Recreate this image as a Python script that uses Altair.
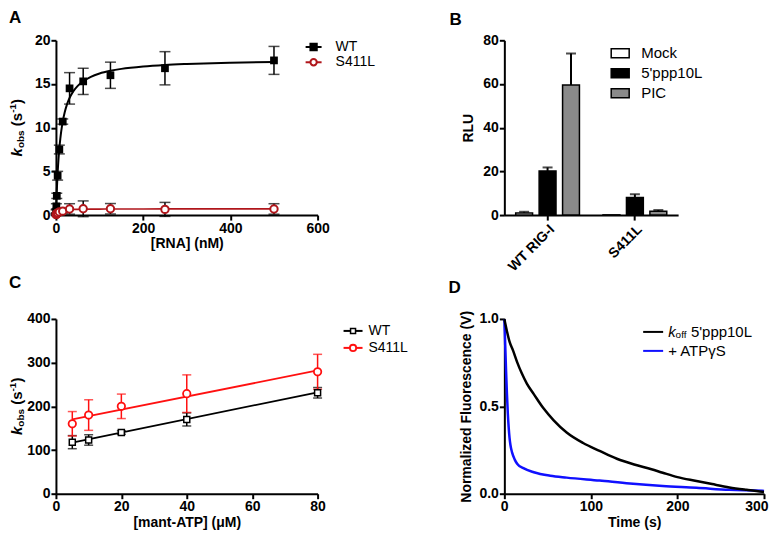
import altair as alt
import pandas as pd

FONT = "Liberation Sans"
DARKRED = "#b0161b"
RED = "#ff1010"
BLUE = "#1010ff"

# ---------------- Panel A data ----------------
a_conc = [0.49, 0.98, 1.95, 3.9, 7.8, 15.6, 31.25, 62.5, 125, 250, 500]
a_wt = [0.4, 1.0, 2.2, 4.5, 7.5, 10.7, 14.5, 15.3, 16.0, 16.8, 17.7]
a_wt_sd = [0.2, 0.3, 0.3, 0.5, 0.5, 0.3, 1.8, 1.5, 1.5, 1.9, 1.6]
a_mut = [0.05, 0.1, 0.15, 0.25, 0.35, 0.45, 0.7, 0.72, 0.72, 0.65, 0.7]
a_mut_sd = [0.05, 0.1, 0.1, 0.1, 0.15, 0.2, 0.6, 0.9, 0.6, 0.8, 0.6]
a_fit_x = [0, 1, 2, 4, 6, 8, 10, 12, 16, 20, 25, 30, 40, 50, 60, 80, 100,
           125, 150, 200, 250, 300, 400, 500]
a_fit_wt = [0, 1.56, 2.86, 4.94, 6.51, 7.74, 8.73, 9.55, 10.81, 11.74, 12.61,
            13.26, 14.18, 14.79, 15.23, 15.82, 16.20, 16.51, 16.73, 17.01,
            17.18, 17.29, 17.44, 17.53]
a_fit_mut = [0, 0.12, 0.21, 0.32, 0.39, 0.44, 0.48, 0.51, 0.55, 0.58, 0.60,
             0.62, 0.64, 0.655, 0.665, 0.678, 0.686, 0.692, 0.697, 0.702,
             0.706, 0.708, 0.711, 0.713]

# ---------------- Panel B data ----------------
b_groups = ["WT RIG-I", "S411L"]
b_conds = ["Mock", "5'ppp10L", "PIC"]
b_wt = [1.0, 20.2, 59.5]
b_wt_sd = [0.5, 1.6, 14.5]
b_mut = [0.1, 8.0, 1.8]
b_mut_sd = [0.0, 1.5, 0.5]
b_fill = ["white", "black", "#8a8a8a"]

# ---------------- Panel C data ----------------
c_atp = [5, 10, 20, 40, 80]
c_wt = [118, 123, 140, 170, 231]
c_wt_sd = [15, 12, 4, 15, 12]
c_mut = [160, 180, 200, 229, 279]
c_mut_sd = [28, 35, 28, 43, 40]
c_fit_x = [5, 80]
c_fit_wt = [117, 232]
c_fit_mut = [170, 282]

# ---------------- Panel D data ----------------
d_t_koff = [0, 1, 3, 6, 10, 15, 20, 26, 34, 45, 57, 72, 91, 110, 130, 150,
            170, 183, 200, 222, 240, 260, 280, 298, 300]
d_koff = [1.0, 0.975, 0.93, 0.87, 0.82, 0.75, 0.69, 0.63, 0.57, 0.49, 0.42,
          0.35, 0.29, 0.245, 0.20, 0.167, 0.14, 0.12, 0.095, 0.073, 0.055,
          0.036, 0.022, 0.011, 0.01]
d_t_atp = [0, 0.5, 1, 2, 3, 4, 5, 6, 7, 9, 12, 15, 22, 34, 53, 72, 110, 145,
           183, 222, 260, 298, 300]
d_atp = [1.0, 0.93, 0.85, 0.70, 0.57, 0.46, 0.38, 0.32, 0.28, 0.235, 0.195,
         0.17, 0.146, 0.123, 0.103, 0.092, 0.075, 0.058, 0.044, 0.034, 0.022,
         0.017, 0.016]

ONE = pd.DataFrame({"d": [0]})

BOLD_W = {"k": .556, "o": .611, "b": .611, "s": .556, "(": .333, ")": .333,
          "-": .333, "1": .556, " ": .278}
REG_W = {"k": .5, "o": .556, "f": .278, " ": .278}


def tw(s, size, bold=True):
    table = BOLD_W if bold else REG_W
    return sum(table.get(c, 0.556) for c in s) * size


def label(text, x, y, size, weight="bold", style="normal", angle=0,
          align="left", baseline="middle", color="black"):
    return alt.Chart(ONE).mark_text(
        text=text, font=FONT, fontSize=size, fontWeight=weight,
        fontStyle=style, angle=angle, align=align, baseline=baseline,
        color=color).encode(x=alt.value(x), y=alt.value(y))


def kobs_title(xc, yc, big=15, small=10):
    parts = [("k", big, "italic", 0), ("obs", small, "normal", 4),
             (None, big, None, 0), ("(s", big, "normal", 0),
             ("-1", small, "normal", -4), (")", big, "normal", 0)]
    widths = [tw("k", big), tw("obs", small), tw(" ", big), tw("(s", big),
              tw("-1", small), tw(")", big)]
    y = yc + sum(widths) / 2
    out = []
    for (t, size, style, dx), w in zip(parts, widths):
        if t:
            out.append(label(t, xc + dx, y, size, style=style, angle=270))
        y -= w
    return out


def leg_line(x1, x2, y, color, width=2):
    return alt.Chart(ONE).mark_rule(color=color, strokeWidth=width).encode(
        x=alt.value(x1), x2=alt.value(x2), y=alt.value(y))


def leg_point(x, y, shape, color, fill, size, sw=2):
    return alt.Chart(ONE).mark_point(
        shape=shape, filled=True, fill=fill, stroke=color, strokeWidth=sw,
        size=size, opacity=1).encode(x=alt.value(x), y=alt.value(y))


def leg_box(x1, x2, y1, y2, fill):
    return alt.Chart(ONE).mark_rect(fill=fill, stroke="black",
                                    strokeWidth=1.5).encode(
        x=alt.value(x1), x2=alt.value(x2), y=alt.value(y1), y2=alt.value(y2))


# ================= Panel A =================
dfA = pd.DataFrame({"conc": a_conc, "wt": a_wt, "wt_sd": a_wt_sd,
                    "mut": a_mut, "mut_sd": a_mut_sd})
dfA["wt_lo"] = dfA["wt"] - dfA["wt_sd"]
dfA["wt_hi"] = dfA["wt"] + dfA["wt_sd"]
dfA["mut_lo"] = dfA["mut"] - dfA["mut_sd"]
dfA["mut_hi"] = dfA["mut"] + dfA["mut_sd"]
dfAfit = pd.DataFrame({"conc": a_fit_x, "wt": a_fit_wt, "mut": a_fit_mut})


def xA():
    return alt.X("conc:Q", scale=alt.Scale(domain=[0, 600], nice=False),
                 axis=alt.Axis(values=[0, 200, 400, 600], title="[RNA] (nM)",
                               titlePadding=1))


def yA(f):
    return alt.Y(f"{f}:Q", scale=alt.Scale(domain=[0, 20], nice=False),
                 axis=alt.Axis(values=[0, 5, 10, 15, 20], title=None))


baseA = alt.Chart(dfA)
layersA = []
for s in ["wt", "mut"]:
    layersA.append(baseA.mark_rule(color="black", strokeWidth=1.5).encode(
        x=xA(), y=yA(f"{s}_lo"), y2=f"{s}_hi"))
    for e in ["lo", "hi"]:
        layersA.append(baseA.mark_tick(orient="horizontal", size=11,
                                       thickness=1.5, color="black").encode(
            x=xA(), y=yA(f"{s}_{e}")))
layersA.append(alt.Chart(dfAfit).mark_line(color=DARKRED, strokeWidth=1.6,
                                           interpolate="monotone").encode(
    x=xA(), y=yA("mut")))
layersA.append(alt.Chart(dfAfit).mark_line(color="black", strokeWidth=2,
                                           interpolate="monotone").encode(
    x=xA(), y=yA("wt")))
layersA.append(baseA.mark_point(shape="square", filled=True, color="black",
                                size=60, opacity=1).encode(x=xA(), y=yA("wt")))
layersA.append(baseA.mark_point(shape="circle", filled=True, fill="white",
                                stroke=DARKRED, strokeWidth=2, size=55,
                                opacity=1).encode(x=xA(), y=yA("mut")))
layersA += kobs_title(-38.5, 87.5)
layersA += [label("A", -47, -30, 17, baseline="top"),
            leg_line(250, 266, 6.7, "black"),
            leg_point(258, 6.7, "square", "black", "black", 40),
            label("WT", 280, 6.7, 14, weight="normal"),
            leg_line(250, 266, 22, DARKRED),
            leg_point(258, 22, "circle", DARKRED, "white", 40),
            label("S411L", 280, 22, 14, weight="normal")]
panelA = alt.layer(*layersA).properties(width=262, height=175)

# ================= Panel B =================
dfB = pd.DataFrame({
    "group": [g for g in b_groups for _ in b_conds],
    "cond": b_conds * 2,
    "rlu": b_wt + b_mut,
    "sd": b_wt_sd + b_mut_sd,
})
dfB["hi"] = dfB["rlu"] + dfB["sd"]

xB = alt.X("group:N", sort=b_groups,
           scale=alt.Scale(domain=b_groups, paddingInner=0.27,
                           paddingOuter=0.13),
           axis=alt.Axis(title=None, labelAngle=-45, labelAlign="right",
                         labelBaseline="top", labelPadding=2))
xoB = alt.XOffset("cond:N", sort=b_conds,
                  scale=alt.Scale(domain=b_conds, paddingInner=0.28,
                                  paddingOuter=0))


def yB(f):
    return alt.Y(f"{f}:Q", scale=alt.Scale(domain=[0, 80], nice=False),
                 axis=alt.Axis(values=[0, 20, 40, 60, 80], title="RLU",
                               titlePadding=7))


barsB = alt.Chart(dfB).mark_bar(stroke="black", strokeWidth=1.5).encode(
    x=xB, xOffset=xoB, y=yB("rlu"),
    fill=alt.Fill("cond:N", sort=b_conds,
                  scale=alt.Scale(domain=b_conds, range=b_fill),
                  legend=None))
errB = alt.Chart(dfB[dfB["sd"] > 0])
layersB = [
    errB.mark_rule(color="black", strokeWidth=2).encode(
        x=xB, xOffset=xoB, y=yB("rlu"), y2="hi"),
    errB.mark_tick(orient="horizontal", size=10, thickness=2,
                   color="black").encode(x=xB, xOffset=xoB, y=yB("hi")),
    barsB,
    label("B", -55, -28, 17, baseline="top"),
]
for i, (cond, fill) in enumerate(zip(b_conds, b_fill)):
    yc = 13 + 20 * i
    layersB.append(leg_box(107, 125, yc - 4.5, yc + 4.5, fill))
    layersB.append(label(cond, 137, yc, 15, weight="normal"))
panelB = alt.layer(*layersB).properties(width=174, height=175)

# ================= Panel C =================
dfC = pd.DataFrame({"atp": c_atp, "wt": c_wt, "wt_sd": c_wt_sd,
                    "mut": c_mut, "mut_sd": c_mut_sd})
for s in ["wt", "mut"]:
    dfC[f"{s}_lo"] = dfC[s] - dfC[f"{s}_sd"]
    dfC[f"{s}_hi"] = dfC[s] + dfC[f"{s}_sd"]
dfCfit = pd.DataFrame({"atp": c_fit_x, "wt": c_fit_wt, "mut": c_fit_mut})


def xC():
    return alt.X("atp:Q", scale=alt.Scale(domain=[0, 80], nice=False),
                 axis=alt.Axis(values=[0, 20, 40, 60, 80],
                               title="[mant-ATP] (\u03bcM)", titlePadding=2))


def yC(f):
    return alt.Y(f"{f}:Q", scale=alt.Scale(domain=[0, 400], nice=False),
                 axis=alt.Axis(values=[0, 100, 200, 300, 400], title=None))


baseC = alt.Chart(dfC)
layersC = []
for s, col in [("wt", "black"), ("mut", RED)]:
    layersC.append(baseC.mark_rule(color=col, strokeWidth=1.5).encode(
        x=xC(), y=yC(f"{s}_lo"), y2=f"{s}_hi"))
    for e in ["lo", "hi"]:
        layersC.append(baseC.mark_tick(orient="horizontal", size=9,
                                       thickness=1.5, color=col).encode(
            x=xC(), y=yC(f"{s}_{e}")))
layersC.append(alt.Chart(dfCfit).mark_line(color="black", strokeWidth=1.8)
               .encode(x=xC(), y=yC("wt")))
layersC.append(alt.Chart(dfCfit).mark_line(color=RED, strokeWidth=1.8)
               .encode(x=xC(), y=yC("mut")))
layersC.append(baseC.mark_point(shape="square", filled=True, fill="white",
                                stroke="black", strokeWidth=1.5, size=36,
                                opacity=1).encode(x=xC(), y=yC("wt")))
layersC.append(baseC.mark_point(shape="circle", filled=True, fill="white",
                                stroke=RED, strokeWidth=1.8, size=55,
                                opacity=1).encode(x=xC(), y=yC("mut")))
layersC += kobs_title(-38.5, 87.5)
layersC += [label("C", -47, -44, 17, baseline="top"),
            leg_line(288, 307, 12, "black"),
            leg_point(297.5, 12, "square", "black", "white", 25, 1.5),
            label("WT", 313, 12, 14, weight="normal"),
            leg_line(288, 307, 29, RED),
            leg_point(297.5, 29, "circle", RED, "white", 40, 1.8),
            label("S411L", 313, 29, 14, weight="normal")]
panelC = alt.layer(*layersC).properties(width=262, height=175)

# ================= Panel D =================
dfD1 = pd.DataFrame({"t": d_t_koff, "f": d_koff})
dfD2 = pd.DataFrame({"t": d_t_atp, "f": d_atp})


def xD():
    return alt.X("t:Q", scale=alt.Scale(domain=[0, 300], nice=False),
                 axis=alt.Axis(values=[0, 100, 200, 300], title="Time (s)",
                               titlePadding=2, labelFlush=True,
                               labelFlushOffset=4))


def yD():
    return alt.Y("f:Q", scale=alt.Scale(domain=[0, 1], nice=False),
                 axis=alt.Axis(values=[0, 0.5, 1.0], format=".1f",
                               title="Normalized Fluorescence (V)",
                               titlePadding=5))


panelD = alt.layer(
    alt.Chart(dfD2).mark_line(color=BLUE, strokeWidth=2.5,
                              interpolate="monotone").encode(x=xD(), y=yD()),
    alt.Chart(dfD1).mark_line(color="black", strokeWidth=2.5,
                              interpolate="monotone").encode(x=xD(), y=yD()),
    label("D", -56, -39, 17, baseline="top"),
    leg_line(139, 159, 13, "black"),
    label("k", 164, 13, 15, weight="normal", style="italic"),
    label("off", 164 + tw("k", 15, False), 16.5, 10, weight="normal"),
    label("5'ppp10L", 164 + tw("k", 15, False) + tw("off", 10, False)
          + tw(" ", 15, False), 13, 15, weight="normal"),
    leg_line(139, 159, 32, BLUE),
    label("+ ATP\u03b3S", 164, 32, 15, weight="normal"),
).properties(width=260, height=175)

chart = alt.concat(
    panelA, panelB, panelC, panelD, columns=2,
    spacing={"row": 104, "column": 187}, bounds="flush",
).properties(
    padding={"left": 0, "top": 1, "right": 0, "bottom": 0}
).configure_view(stroke=None).configure_axis(
    domainColor="black", domainWidth=2, tickColor="black", tickWidth=2,
    tickSize=5, labelFont=FONT, labelFontSize=14, labelFontWeight="bold",
    labelColor="black", labelPadding=1, labelFlush=False, labelOverlap=False,
    titleFont=FONT, titleFontSize=14, titleFontWeight="bold",
    titleColor="black", grid=False,
)

chart.save("out.html", embed_options={"renderer": "svg", "actions": False})
